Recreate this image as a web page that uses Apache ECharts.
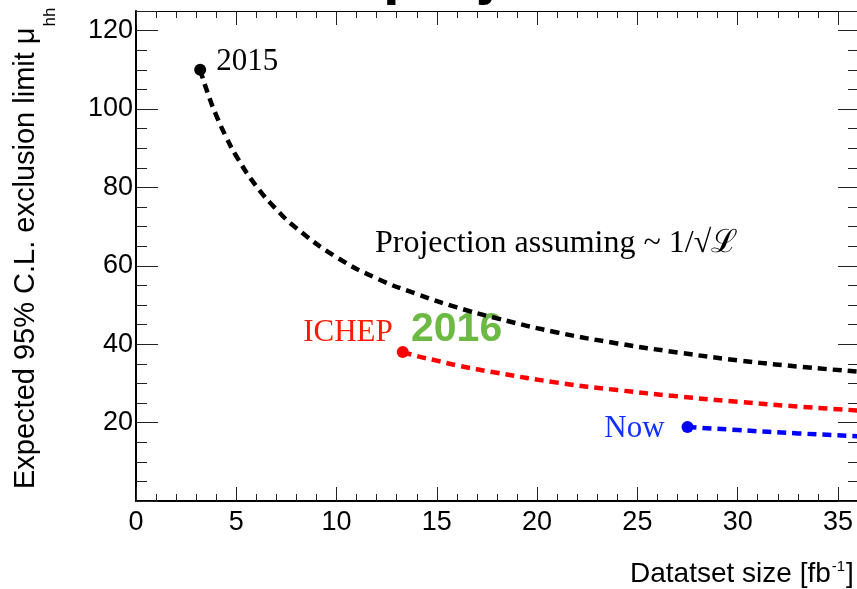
<!DOCTYPE html>
<html>
<head>
<meta charset="utf-8">
<script src="https://cdn.jsdelivr.net/npm/echarts@6/dist/echarts.min.js"></script>
<style>
  html, body { margin: 0; padding: 0; background: #fff; }
  #chart { width: 857px; height: 589px; }
</style>
</head>
<body>
<div id="chart"></div>
<script>
// Dataset size (fb^-1) and expected 95% CL limit on mu_hh for each projection
const proj2015X = [3.2, 3.6, 4, 4.5, 5, 6, 7, 8, 10, 12, 14, 16, 18, 21, 24, 27, 30, 33, 36];
const proj2015Y = [110, 103.7, 98.4, 92.8, 88.0, 80.3, 74.4, 69.6, 62.2, 56.8, 52.8, 49.4, 46.6, 43.0, 40.2, 37.9, 35.9, 34.3, 33.0];
const ichepX = [13.3, 14, 15, 16, 18, 21, 24, 27, 30, 33, 36];
const ichepY = [38, 37.0, 35.8, 34.6, 32.7, 30.2, 28.3, 26.7, 25.3, 24.1, 23.1];
const nowX = [27.5, 30, 33, 36];
const nowY = [18.9, 18.1, 17.25, 16.5];

// Labelled tick values
const xTickLabels = [0, 5, 10, 15, 20, 25, 30, 35];
const yTickLabels = [20, 40, 60, 80, 100, 120];

const SANS = '"Liberation Sans", Arial, Helvetica, sans-serif';
const SERIF = '"Liberation Serif", "Times New Roman", serif';

const zip = (xs, ys) => xs.map((x, i) => [x, ys[i]]);

const measure = (text, font) => {
  const ctx = document.createElement('canvas').getContext('2d');
  ctx.font = font;
  return ctx.measureText(text).width;
};

const chart = echarts.init(document.getElementById('chart'), null, { renderer: 'canvas' });

const tickStyle = { color: '#222', width: 1 };
const X_MIN = 0, X_MAX = 36, Y_MIN = 0, Y_MAX = 125;

function xAxisDef(position, interval, tickLen, withLine, withLabels, lineWidth) {
  return {
    type: 'value', position, min: X_MIN, max: X_MAX, interval,
    axisLine: { show: withLine, onZero: false, lineStyle: { color: '#000', width: lineWidth } },
    axisTick: { show: true, inside: true, length: tickLen, lineStyle: tickStyle },
    axisLabel: withLabels ? {
      show: true, margin: 8, color: '#000', fontFamily: SANS, fontSize: 27,
      formatter: v => (xTickLabels.includes(v) ? String(v) : '')
    } : { show: false },
    splitLine: { show: false }
  };
}

function yAxisDef(position, interval, tickLen, withLine, withLabels, lineWidth) {
  return {
    type: 'value', position, min: Y_MIN, max: Y_MAX, interval,
    axisLine: { show: withLine, onZero: false, lineStyle: { color: '#000', width: lineWidth } },
    axisTick: { show: true, inside: true, length: tickLen, lineStyle: tickStyle },
    axisLabel: withLabels ? {
      show: true, margin: 3, color: '#000', fontFamily: SANS, fontSize: 27,
      formatter: v => (yTickLabels.includes(v) ? String(v) : '')
    } : { show: false },
    splitLine: { show: false }
  };
}

const dashed = (color) => ({ color, width: 4.5, type: [9, 6], cap: 'butt', opacity: 1 });

function curve(name, xs, ys, color) {
  return {
    name, type: 'line', xAxisIndex: 0, yAxisIndex: 0,
    data: zip(xs, ys), smooth: 0.5,
    symbol: 'none', lineStyle: dashed(color), z: 3, silent: true
  };
}

const labelBase = { show: true, fontFamily: SERIF, fontSize: 31, opacity: 1 };

// Start points of each projection, with their text labels
const startPoints = [
  {
    value: [proj2015X[0], proj2015Y[0]], itemStyle: { color: '#000', opacity: 1 },
    label: Object.assign({}, labelBase, { formatter: '2015', position: 'right', distance: 10,
             offset: [0, -8], color: '#000' })
  },
  {
    value: [ichepX[0], ichepY[0]], itemStyle: { color: '#ff0000', opacity: 1 },
    label: Object.assign({}, labelBase, { formatter: 'ICHEP', position: 'left', distance: 4,
             offset: [0, -19], color: '#ff1a00' })
  },
  {
    value: [nowX[0], nowY[0]], itemStyle: { color: '#0000ff', opacity: 1 },
    label: Object.assign({}, labelBase, { formatter: 'Now', position: 'left', distance: 17,
             offset: [0, 2], color: '#1030ff' })
  }
];

// Axis titles
const yTitleMain = 'Expected 95% C.L. exclusion limit \u03bc';
const yTitleFont = '29px ' + SANS;
const yTitleW = measure(yTitleMain, yTitleFont);

const xTitleMain = 'Datatset size [fb';
const xTitleFont = '28px ' + SANS;
const xSupFont = '15px ' + SANS;
const xTitleW = measure(xTitleMain, xTitleFont);
const xSupW = measure('-1', xSupFont);
const xTitleLeft = 630;

const option = {
  animation: false,
  backgroundColor: '#fff',
  grid: { left: 136, top: 11, width: 722, height: 490, outerBoundsMode: 'none', containLabel: false },
  xAxis: [
    xAxisDef('bottom', 1, 7, true, true, 2),
    xAxisDef('bottom', 5, 14, false, false, 1),
    xAxisDef('top', 1, 7, true, false, 1),
    xAxisDef('top', 5, 14, false, false, 1)
  ],
  yAxis: [
    yAxisDef('left', 5, 11, true, true, 2),
    yAxisDef('left', 20, 22, false, false, 1),
    yAxisDef('right', 5, 10, true, false, 1),
    yAxisDef('right', 20, 20, false, false, 1)
  ],
  series: [
    curve('2015 projection', proj2015X, proj2015Y, '#000'),
    curve('ICHEP 2016 projection', ichepX, ichepY, '#ff0000'),
    curve('Now projection', nowX, nowY, '#0000ff'),
    {
      name: 'start', type: 'scatter', xAxisIndex: 0, yAxisIndex: 0,
      symbol: 'circle', symbolSize: 12, data: startPoints, z: 5, silent: true,
      itemStyle: { opacity: 1 }
    }
  ],
  graphic: [
    // Title (runs off the top edge)
    {
      type: 'text', x: 383, y: -24, silent: true,
      style: { text: 'projection', font: 'bold 60px ' + SANS, fill: '#000',
               align: 'left', verticalAlign: 'middle' }
    },
    {
      type: 'text', x: 375, y: 244, silent: true,
      style: { text: 'Projection assuming ~ 1/\u221a\u2112', font: '32px ' + SERIF, fill: '#000',
               align: 'left', verticalAlign: 'middle' }
    },
    {
      type: 'text', x: 411, y: 330, silent: true,
      style: { text: '2016', font: 'bold 41px ' + SANS, fill: '#6cb944',
               align: 'left', verticalAlign: 'middle' }
    },
    // y-axis title, read bottom to top
    {
      type: 'group', x: 35, y: 489, rotation: Math.PI / 2, silent: true,
      children: [
        { type: 'text', x: 0, y: -9.5,
          style: { text: yTitleMain, font: yTitleFont, fill: '#000', align: 'left', verticalAlign: 'middle' } },
        { type: 'text', x: yTitleW + 1, y: 15,
          style: { text: 'hh', font: '17px ' + SANS, fill: '#000', align: 'left', verticalAlign: 'middle' } }
      ]
    },
    // x-axis title with superscript
    {
      type: 'group', x: xTitleLeft, y: 574, silent: true,
      children: [
        { type: 'text', x: 0, y: 0,
          style: { text: xTitleMain, font: xTitleFont, fill: '#000', align: 'left', verticalAlign: 'middle' } },
        { type: 'text', x: xTitleW + 1, y: -7,
          style: { text: '-1', font: xSupFont, fill: '#000', align: 'left', verticalAlign: 'middle' } },
        { type: 'text', x: xTitleW + xSupW + 2, y: 0,
          style: { text: ']', font: xTitleFont, fill: '#000', align: 'left', verticalAlign: 'middle' } }
      ]
    }
  ]
};

chart.setOption(option);
</script>
</body>
</html>
